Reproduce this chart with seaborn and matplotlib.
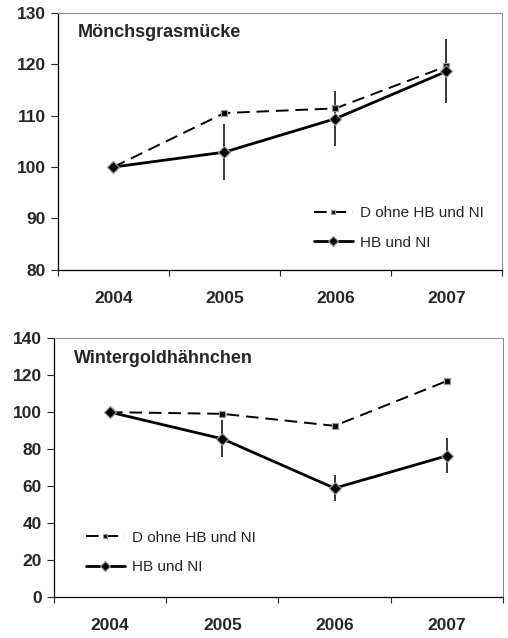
import matplotlib
matplotlib.use("Agg")
import matplotlib.pyplot as plt
import seaborn as sns
import numpy as np

years = ['2004', '2005', '2006', '2007']

# Mönchsgrasmücke
mg_d = [100, 110.5, 111.4, 119.6]
mg_hb = [100, 102.9, 109.4, 118.6]
mg_err = [0, 5.4, 5.3, 6.2]

# Wintergoldhähnchen
wg_d = [100, 99.1, 92.6, 116.8]
wg_hb = [100, 85.6, 58.9, 76.4]
wg_err = [0, 10.0, 7.1, 9.5]

label_d = 'D ohne HB und NI'
label_hb = 'HB und NI'

sns.set_style("white")
plt.rcParams['font.family'] = ['Liberation Sans', 'DejaVu Sans']


def draw_panel(ax, title, d_vals, hb_vals, err, ylim, yticks, legend_anchor):
    x = np.arange(len(years))
    ax.errorbar(x, hb_vals, yerr=err, fmt='none', ecolor='black', elinewidth=1.1, capsize=0, zorder=1)
    sns.lineplot(x=x, y=d_vals, ax=ax, color='black', lw=1.4, linestyle=(0, (6.5, 3.5)),
                 marker='s', markersize=4, markerfacecolor='black', markeredgecolor='#999999',
                 markeredgewidth=0.9, label=label_d, zorder=2)
    sns.lineplot(x=x, y=hb_vals, ax=ax, color='black', lw=2.0,
                 marker='D', markersize=6.5, markerfacecolor='black', markeredgecolor='#999999',
                 markeredgewidth=0.9, label=label_hb, zorder=3)

    ax.set_xlim(-0.5, len(years) - 0.5)
    ax.set_ylim(*ylim)
    ax.set_yticks(yticks)
    ax.set_yticklabels([str(v) for v in yticks], fontsize=12.5, fontweight='bold')
    ax.set_xticks(np.arange(len(years) + 1) - 0.5)
    ax.set_xticklabels([])
    ax.set_xticks(x, minor=True)
    ax.set_xticklabels(years, minor=True, fontsize=12.5, fontweight='bold')
    ax.tick_params(axis='x', which='major', direction='out', length=4, width=0.8, bottom=True)
    ax.tick_params(axis='x', which='minor', length=0, pad=15)
    ax.tick_params(axis='y', direction='out', length=5, width=0.8, left=True, pad=3.5)
    ax.set_xlabel('')
    ax.set_ylabel('')

    for side in ['left', 'bottom']:
        ax.spines[side].set_color('black')
        ax.spines[side].set_linewidth(0.9)
    for side in ['top', 'right']:
        ax.spines[side].set_color('#888888')
        ax.spines[side].set_linewidth(0.7)

    ax.text(0.045, 0.922, title, transform=ax.transAxes, fontsize=13,
            fontweight='bold', va='center', ha='left')

    ax.legend(loc='upper left', bbox_to_anchor=legend_anchor, frameon=False,
              fontsize=11, handlelength=2.6, handletextpad=0.45, labelspacing=1.0,
              markerscale=0.75)


fig = plt.figure(figsize=(5.08, 6.38), dpi=100)
ax1 = fig.add_axes([0.114, 0.577, 0.874, 0.403])
ax2 = fig.add_axes([0.106, 0.064, 0.884, 0.406])

draw_panel(ax1, 'Mönchsgrasmücke', mg_d, mg_hb, mg_err, (80, 130),
           [80, 90, 100, 110, 120, 130], (0.545, 0.30))
draw_panel(ax2, 'Wintergoldhähnchen', wg_d, wg_hb, wg_err, (0, 140),
           [0, 20, 40, 60, 80, 100, 120, 140], (0.04, 0.31))

fig.savefig('out.png', dpi=100)
